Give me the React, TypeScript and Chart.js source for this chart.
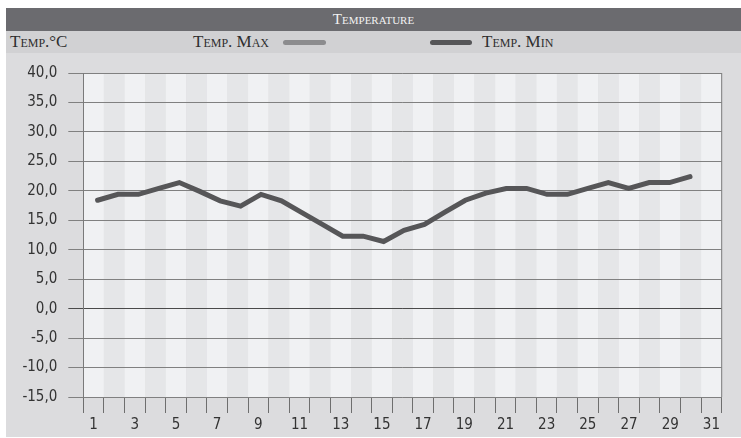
import { useEffect, useRef } from 'react';
import { Chart, registerables } from 'chart.js';

Chart.register(...registerables);

const days: string[] = ['1', '2', '3', '4', '5', '6', '7', '8', '9', '10', '11', '12', '13', '14', '15', '16', '17', '18', '19', '20', '21', '22', '23', '24', '25', '26', '27', '28', '29', '30', '31'];
const tempMin: number[] = [18.4, 19.4, 19.4, 20.4, 21.4, 19.9, 18.3, 17.4, 19.4, 18.3, 16.3, 14.3, 12.3, 12.3, 11.4, 13.3, 14.3, 16.4, 18.4, 19.6, 20.4, 20.4, 19.4, 19.4, 20.4, 21.4, 20.4, 21.4, 21.4, 22.4];
const tempMax: number[] = [];
const yMin = -15;
const yMax = 40;
const yStep = 5;

const SERIF = "'Liberation Serif', 'DejaVu Serif', serif";
const NARROW = "'Liberation Sans Narrow', 'DejaVu Sans Condensed', 'Roboto', sans-serif";

export default function App() {
  const ref = useRef<HTMLCanvasElement>(null);

  useEffect(() => {
    if (!ref.current) return;
    const bands = {
      id: 'bands',
      beforeDraw(chart: any) {
        const { ctx, chartArea, scales } = chart;
        const x = scales.x;
        ctx.save();
        ctx.fillStyle = '#dcdcde';
        ctx.fillRect(0, 0, chart.width, chart.height);
        const step = x.getPixelForValue(1) - x.getPixelForValue(0);
        days.forEach((_, i) => {
          const c = x.getPixelForValue(i);
          ctx.fillStyle = i % 2 === 0 ? '#f0f1f3' : '#e5e6e8';
          ctx.fillRect(c - step / 2, chartArea.top, step, chartArea.bottom - chartArea.top);
        });
        ctx.restore();
      },
      beforeDatasetsDraw(chart: any) {
        const { ctx, chartArea } = chart;
        ctx.save();
        ctx.strokeStyle = '#7a7a7a';
        ctx.lineWidth = 1;
        ctx.beginPath();
        ctx.moveTo(chartArea.right, chartArea.top);
        ctx.lineTo(chartArea.right, chartArea.bottom);
        ctx.stroke();
        ctx.restore();
      },
    };

    const chart = new Chart(ref.current, {
      type: 'line',
      data: {
        labels: days,
        datasets: [
          {
            label: 'Temp. Max',
            data: tempMax.map((v, i) => ({ x: i + 1, y: v })),
            xAxisID: 'x2',
            borderColor: '#8c8c8e',
            borderWidth: 5,
            pointRadius: 0,
          },
          {
            label: 'Temp. Min',
            data: tempMin.map((v, i) => ({ x: i + 1, y: v })),
            xAxisID: 'x2',
            borderColor: '#565658',
            borderWidth: 5,
            borderCapStyle: 'round',
            borderJoinStyle: 'miter',
            pointRadius: 0,
            tension: 0,
          },
        ],
      },
      options: {
        animation: false,
        responsive: false,
        layout: { padding: { top: 20, right: 19.3, left: 0, bottom: 0 } },
        plugins: { legend: { display: false }, title: { display: false }, tooltip: { enabled: false } },
        scales: {
          x: {
            type: 'category',
            offset: true,
            afterFit: (s: any) => { s.height = 40; },
            grid: {
              display: true,
              offset: true,
              drawOnChartArea: false,
              drawTicks: true,
              tickLength: 16,
              color: '#6e6e6e',
              lineWidth: 1,
            },
            border: { display: false },
            ticks: {
              autoSkip: false,
              maxRotation: 0,
              padding: 3,
              color: '#333',
              font: { family: NARROW, size: 15 },
              callback: (_v: any, i: number) => (i % 2 === 0 ? days[i] : ''),
            },
          },
          x2: {
            type: 'linear',
            display: false,
            min: 0.3,
            max: 31.55,
          },
          y: {
            min: yMin,
            max: yMax,
            afterFit: (s: any) => { s.width = 77.3; },
            grid: {
              color: (c: any) => (c.tick && c.tick.value === 0 ? '#4a4a4a' : '#808080'),
              lineWidth: 1,
              tickLength: 15,
            },
            border: { display: true, color: '#7a7a7a' },
            ticks: {
              stepSize: yStep,
              padding: 11,
              color: '#333',
              font: { family: NARROW, size: 15 },
              callback: (v: any) => Number(v).toFixed(1).replace('.', ','),
            },
          },
        },
      },
      plugins: [bands],
    } as any);
    return () => chart.destroy();
  }, []);

  return (
    <div style={{ position: 'absolute', left: 6, top: 8, width: 735, height: 429, background: '#dcdcde' }}>
      <div
        style={{
          height: 23,
          background: '#6b6b6f',
          color: '#f2f2f2',
          textAlign: 'center',
          lineHeight: '23px',
          fontFamily: SERIF,
          fontVariant: 'small-caps',
          fontSize: 15,
        }}
      >
        Temperature
      </div>
      <div style={{ position: 'relative', height: 22, background: '#d1d1d3', color: '#2e2e2e', fontFamily: SERIF, fontVariant: 'small-caps', fontSize: 17, lineHeight: '22px' }}>
        <span style={{ position: 'absolute', left: 4, top: 0 }}>Temp.°C</span>
        <span style={{ position: 'absolute', left: 187, top: 0 }}>Temp. Max</span>
        <span style={{ position: 'absolute', left: 277, top: 9, width: 43, height: 5, borderRadius: 3, background: '#8c8c8e' }} />
        <span style={{ position: 'absolute', left: 424, top: 9, width: 42, height: 5, borderRadius: 3, background: '#565658' }} />
        <span style={{ position: 'absolute', left: 476, top: 0 }}>Temp. Min</span>
      </div>
      <canvas ref={ref} width={735} height={384} style={{ display: 'block', width: 735, height: 384 }} />
    </div>
  );
}
